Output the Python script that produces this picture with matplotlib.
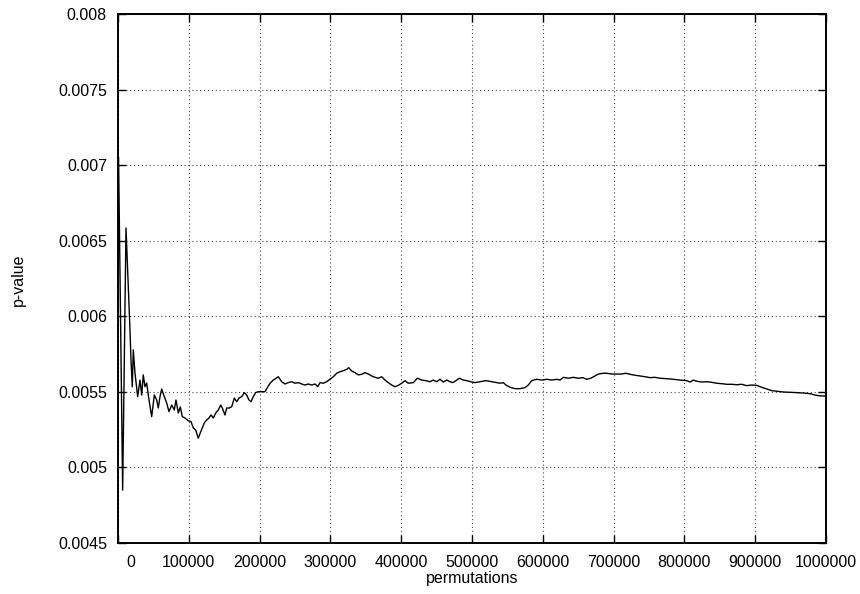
"""
pvalue_convergence.py
---------------------
Running p-value estimate as the number of permutations grows.
Saves the figure to out.png.
"""

import matplotlib
matplotlib.use("Agg")
import matplotlib.pyplot as plt
from matplotlib.ticker import FixedLocator, FuncFormatter
import matplotlib.transforms as mtransforms


# ─── data ───────────────────────────────────────────────────────────────────

PERMUTATIONS = [
    800, 6600, 11300, 16950, 18360, 20200, 21600, 24000, 27800, 31100,
    33500, 35700, 38100, 40500, 43800, 47600, 51300, 54700, 56900, 59300,
    61700, 65400, 68800, 72000, 75900, 79500, 81900, 85200, 88000, 90800,
    94600, 99300, 103100, 106400, 109700, 113400, 116200, 119100, 121900, 125300,
    128500, 131400, 134600, 138000, 141700, 145100, 147300, 151100, 153500, 157200,
    160600, 164300, 167700, 170900, 174700, 178400, 181800, 185000, 187900, 191100,
    194500, 198200, 203000, 207600, 214700, 219400, 226400, 231200, 235900, 240500,
    245300, 250000, 254700, 259500, 264100, 268800, 273600, 278300, 282100, 285300,
    290000, 294800, 299400, 304100, 308900, 313600, 318200, 323000, 325800, 330100,
    334700, 339400, 344200, 348900, 353500, 358300, 363000, 367700, 372500, 377100,
    381800, 386600, 391200, 395900, 400700, 405400, 410000, 417100, 422700, 428900,
    435000, 440700, 445300, 450100, 454800, 459500, 464300, 468900, 472700, 477400,
    482100, 487700, 492500, 498200, 504200, 511300, 519800, 527800, 534900, 539600,
    544200, 548000, 553700, 560700, 567800, 574900, 579500, 584300, 591400, 598400,
    605500, 612600, 619600, 624300, 629000, 636000, 643100, 650200, 656400, 662000,
    667700, 673700, 678400, 685500, 690300, 697300, 704400, 711400, 717500, 723200,
    730200, 737300, 744300, 751400, 758500, 765500, 775000, 784300, 793800, 803300,
    807900, 812600, 817400, 824400, 831500, 838600, 845600, 852700, 859700, 866800,
    873900, 880900, 888000, 895100, 902100, 909200, 916300, 923300, 930400, 939700,
    949200, 958600, 968000, 977400, 984400, 991500, 997200, 1000000,
]

P_VALUE = [
    0.007050, 0.004850, 0.006584, 0.005909, 0.005711, 0.005534, 0.005777, 0.005625, 0.005468, 0.005578,
    0.005479, 0.005612, 0.005534, 0.005559, 0.005446, 0.005336, 0.005479, 0.005446, 0.005393, 0.005468,
    0.005519, 0.005468, 0.005426, 0.005369, 0.005413, 0.005380, 0.005446, 0.005360, 0.005400, 0.005336,
    0.005327, 0.005309, 0.005303, 0.005261, 0.005248, 0.005193, 0.005228, 0.005261, 0.005294, 0.005314,
    0.005327, 0.005347, 0.005327, 0.005360, 0.005380, 0.005413, 0.005393, 0.005347, 0.005393, 0.005393,
    0.005402, 0.005459, 0.005435, 0.005459, 0.005468, 0.005495, 0.005479, 0.005446, 0.005435, 0.005468,
    0.005495, 0.005501, 0.005501, 0.005501, 0.005557, 0.005578, 0.005600, 0.005567, 0.005552, 0.005561,
    0.005567, 0.005557, 0.005561, 0.005552, 0.005545, 0.005552, 0.005545, 0.005552, 0.005534, 0.005561,
    0.005557, 0.005567, 0.005583, 0.005600, 0.005623, 0.005633, 0.005640, 0.005649, 0.005660, 0.005638,
    0.005627, 0.005612, 0.005616, 0.005627, 0.005618, 0.005605, 0.005596, 0.005590, 0.005600, 0.005578,
    0.005561, 0.005545, 0.005534, 0.005543, 0.005557, 0.005574, 0.005557, 0.005561, 0.005590, 0.005578,
    0.005574, 0.005567, 0.005578, 0.005567, 0.005583, 0.005565, 0.005578, 0.005567, 0.005561, 0.005574,
    0.005590, 0.005578, 0.005574, 0.005567, 0.005561, 0.005567, 0.005574, 0.005567, 0.005561, 0.005557,
    0.005561, 0.005545, 0.005530, 0.005521, 0.005521, 0.005528, 0.005545, 0.005574, 0.005583, 0.005578,
    0.005583, 0.005578, 0.005583, 0.005578, 0.005596, 0.005590, 0.005596, 0.005590, 0.005594, 0.005583,
    0.005590, 0.005605, 0.005618, 0.005623, 0.005623, 0.005618, 0.005618, 0.005618, 0.005623, 0.005616,
    0.005610, 0.005605, 0.005600, 0.005594, 0.005596, 0.005590, 0.005587, 0.005583, 0.005578, 0.005574,
    0.005565, 0.005578, 0.005570, 0.005565, 0.005567, 0.005563, 0.005557, 0.005554, 0.005550, 0.005550,
    0.005547, 0.005550, 0.005541, 0.005545, 0.005543, 0.005530, 0.005519, 0.005508, 0.005504, 0.005499,
    0.005497, 0.005495, 0.005492, 0.005488, 0.005479, 0.005473, 0.005473, 0.005470,
]

X_TICKS = [0, 100000, 200000, 300000, 400000, 500000,
           600000, 700000, 800000, 900000, 1000000]
Y_TICKS = [0.0045, 0.005, 0.0055, 0.006, 0.0065, 0.007, 0.0075, 0.008]

X_LABEL = "permutations"
Y_LABEL = "p-value"


# ─── figure ─────────────────────────────────────────────────────────────────

FONT = ["Liberation Sans", "DejaVu Sans"]
FONT_SIZE = 11.5

plt.rcParams["font.family"] = FONT
plt.rcParams["font.size"] = FONT_SIZE

fig = plt.figure(figsize=(8.6, 5.94), dpi=100, facecolor="white")
ax = fig.add_axes([0.1372, 0.0859, 0.8233, 0.8905])

ax.plot(PERMUTATIONS, P_VALUE, color="black", linewidth=1.0, zorder=3)

ax.set_xlim(0, 1000000)
ax.set_ylim(0.0045, 0.008)

ax.xaxis.set_major_locator(FixedLocator(X_TICKS))
ax.yaxis.set_major_locator(FixedLocator(Y_TICKS))
ax.xaxis.set_major_formatter(FuncFormatter(lambda v, _: "%d" % v))
ax.yaxis.set_major_formatter(FuncFormatter(lambda v, _: "%g" % v))

# gnuplot-ish frame: ticks inward and mirrored on all four sides
ax.tick_params(direction="in", length=6, width=1.0, colors="black",
               top=True, right=True, labelsize=FONT_SIZE)
ax.tick_params(axis="y", pad=8)
ax.tick_params(axis="x", pad=9)
for spine in ax.spines.values():
    spine.set_linewidth(1.4)
    spine.set_color("black")

ax.grid(True, color="#444444", linewidth=0.8, linestyle=(0, (1, 2.5)))
ax.set_axisbelow(True)

# the "0" label sits a little right of the frame corner
fig.canvas.draw()
for lbl in ax.get_xticklabels():
    if lbl.get_text() == "0":
        lbl.set_transform(lbl.get_transform() +
                          mtransforms.ScaledTranslation(13 / 100, 0, fig.dpi_scale_trans))

fig.text(18 / 860, 1 - 280 / 594, Y_LABEL, rotation=90,
         ha="center", va="center", fontsize=FONT_SIZE)
fig.text(472 / 860, 1 - 578 / 594, X_LABEL,
         ha="center", va="center", fontsize=FONT_SIZE)

fig.savefig("out.png", dpi=100, facecolor="white")
